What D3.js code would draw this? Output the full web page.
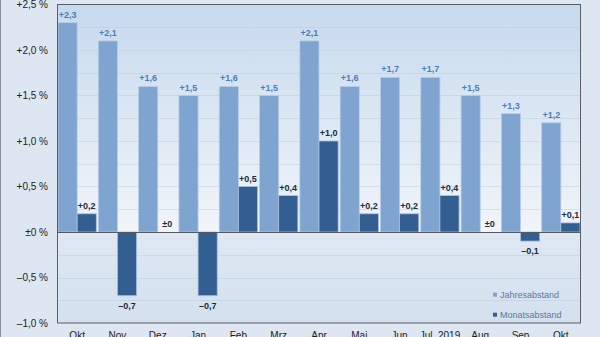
<!DOCTYPE html>
<html><head><meta charset="utf-8">
<script src="https://cdn.jsdelivr.net/npm/d3@7"></script>
<style>html,body{margin:0;padding:0;background:#dde6f1;}svg{display:block;font-family:"Liberation Sans",Arial,sans-serif;}</style>
</head><body><svg id="c" width="600" height="337"></svg>
<script>
const categories = ["Okt","Nov","Dez","Jan","Feb","Mrz","Apr","Mai","Jun","Jul  2019","Aug","Sep","Okt"];
const jahresabstand = [2.3,2.1,1.6,1.5,1.6,1.5,2.1,1.6,1.7,1.7,1.5,1.3,1.2];
const monatsabstand = [0.2,-0.7,0,-0.7,0.5,0.4,1.0,0.2,0.2,0.4,0,-0.1,0.1];
const yTicks = [-1,-0.5,0,0.5,1,1.5,2,2.5];
const gridTicks = [-0.75,-0.25,0.25,0.75,1.25,1.75,2.25,-0.5,0.5,1,1.5,2];
const seriesNames = ["Jahresabstand","Monatsabstand"];

const svg = d3.select("#c");
const L=57, R=581, T=4.5, B=323;
const x = d3.scaleBand().domain(d3.range(categories.length)).range([L,R]).paddingInner(0.05).paddingOuter(0.025);
const y = d3.scaleLinear().domain([-1,2.5]).range([B,T]);
const fmt = v => v===0 ? "±0" : (v>0?"+":"\u2013") + Math.abs(v).toFixed(1).replace(".",",");
const fmtTick = v => (v===0 ? "±0" : (v>0?"+":"\u2013") + Math.abs(v).toFixed(1).replace(".",",")) + " %";

const defs = svg.append("defs");
const z = (y(0)-T)/(B-T);
const g = defs.append("linearGradient").attr("id","bg").attr("x1",0).attr("y1",0).attr("x2",0).attr("y2",1);
[[0,"#c6d9ed"],[z,"#f2f5fa"],[z,"#dfe8f3"],[1,"#d3e0ee"]].forEach(s=>g.append("stop").attr("offset",s[0]).attr("stop-color",s[1]));

svg.append("line").attr("x1",0.5).attr("x2",0.5).attr("y1",0).attr("y2",337).attr("stroke","#8a8f96");
svg.append("rect").attr("x",L).attr("y",T).attr("width",R-L).attr("height",B-T).attr("fill","url(#bg)");

svg.append("g").selectAll("line").data(gridTicks).join("line")
  .attr("x1",L).attr("x2",R).attr("y1",d=>Math.round(y(d))+0.5).attr("y2",d=>Math.round(y(d))+0.5)
  .attr("stroke","#b9c9dc").attr("stroke-opacity",0.45);

const bw = x.bandwidth()/2;
const gr = svg.append("g");
gr.selectAll("rect.j").data(jahresabstand).join("rect").attr("class","j")
  .attr("x",(d,i)=>x(i)).attr("width",bw).attr("y",d=>y(d)).attr("height",d=>y(0)-y(d))
  .attr("fill","#7fa4d0").attr("stroke","#b7cde6").attr("stroke-width",0.8);
gr.selectAll("rect.m").data(monatsabstand).join("rect").attr("class","m")
  .attr("x",(d,i)=>x(i)+bw).attr("width",bw).attr("y",d=>y(Math.max(0,d))).attr("height",d=>Math.abs(y(0)-y(d)))
  .attr("fill","#335e92").attr("stroke","#a9bfda").attr("stroke-width",0.8);

svg.append("g").selectAll("text").data(jahresabstand).join("text")
  .attr("x",(d,i)=>x(i)+bw/2).attr("y",d=>y(d)-5).attr("text-anchor","middle")
  .attr("font-size",9).attr("font-weight","bold").attr("fill","#4a7dbd").text(fmt);
svg.append("g").selectAll("text").data(monatsabstand).join("text")
  .attr("x",(d,i)=>x(i)+bw*1.5).attr("y",d=>d<0? y(d)+13 : y(d)-5).attr("text-anchor","middle")
  .attr("font-size",9).attr("font-weight","bold").attr("fill","#1d2b3e").text(fmt);

svg.append("line").attr("x1",L).attr("x2",R).attr("y1",Math.round(y(0))+0.5).attr("y2",Math.round(y(0))+0.5).attr("stroke","#555a60");
svg.append("rect").attr("x",L+0.5).attr("y",T).attr("width",R-L-1).attr("height",B-T).attr("fill","none").attr("stroke","#5a5f66");

svg.append("g").selectAll("text").data(yTicks).join("text")
  .attr("x",48).attr("y",d=>y(d)+3.5).attr("text-anchor","end").attr("font-size",10).attr("fill","#222").text(fmtTick);
svg.append("g").selectAll("text").data(categories).join("text")
  .attr("x",(d,i)=>x(i)+x.bandwidth()/2).attr("y",339).attr("text-anchor","middle").attr("font-size",10).attr("fill","#222")
  .attr("xml:space","preserve").style("white-space","pre").text(d=>d);

const lg = svg.append("g");
const colors = ["#7fa4d0","#335e92"];
seriesNames.forEach((n,i)=>{
  const cy = 294.7 + i*20;
  lg.append("rect").attr("x",493).attr("y",cy-2).attr("width",4).attr("height",4).attr("fill",colors[i]);
  lg.append("text").attr("x",500).attr("y",cy+3.2).attr("font-size",9).attr("fill","#5a7aa6").text(n);
});
</script></body></html>
